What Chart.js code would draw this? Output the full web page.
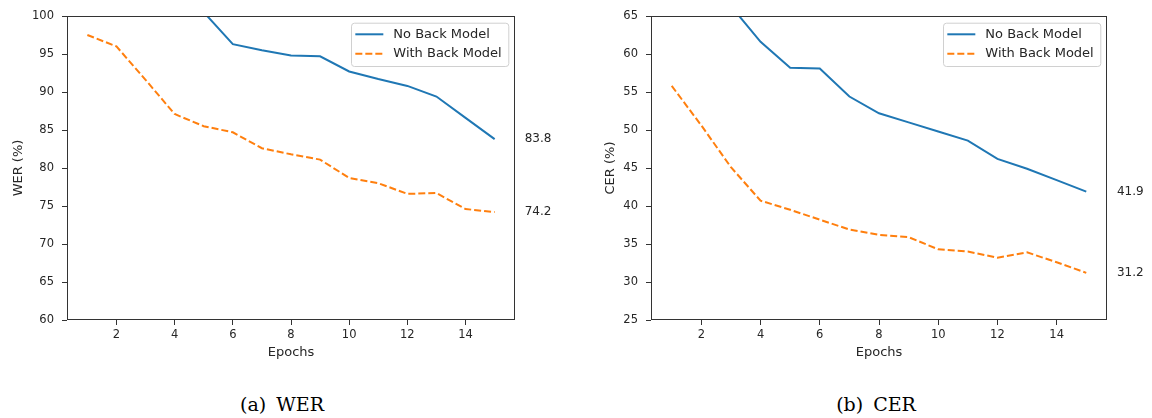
<!DOCTYPE html>
<html>
<head>
<meta charset="utf-8">
<script src="https://cdn.jsdelivr.net/npm/chart.js@4/dist/chart.umd.min.js"></script>
<style>
  html, body { margin: 0; padding: 0; background: #fff; }
  #page { position: relative; width: 1152px; height: 418px; }
  .box { position: absolute; top: 0; width: 576px; height: 370px; }
  .caption {
    position: absolute; top: 391px; height: 26px; line-height: 26px;
    width: 200px; text-align: center;
    font-family: "DejaVu Serif", serif; font-size: 19px; color: #000;
    word-spacing: 4px;
  }
</style>
</head>
<body>
<div id="page">
  <div class="box" style="left:0"><canvas id="wer-chart"></canvas></div>
  <div class="box" style="left:576px"><canvas id="cer-chart"></canvas></div>
  <div class="caption" style="left:182px">(a) WER</div>
  <div class="caption" style="left:776px">(b) CER</div>
</div>
<script>
const epochs = [1, 2, 3, 4, 5, 6, 7, 8, 9, 10, 11, 12, 13, 14, 15];
const xTicks = [2, 4, 6, 8, 10, 12, 14];

// WER (%) - the first epochs of "No Back Model" are above the axis range
const werNoBack   = [null, null, null, null, 100.5, 96.3, 95.5, 94.8, 94.7, 92.7, 91.7, 90.8, 89.4, 86.6, 83.8];
const werWithBack = [97.5, 96.0, 91.6, 87.1, 85.5, 84.7, 82.6, 81.8, 81.1, 78.7, 78.0, 76.6, 76.7, 74.6, 74.2];

// CER (%)
const cerNoBack   = [null, null, 66.3, 61.6, 58.2, 58.1, 54.4, 52.2, 51.0, 49.8, 48.6, 46.2, 44.9, 43.4, 41.9];
const cerWithBack = [55.8, 50.6, 45.1, 40.7, 39.5, 38.2, 36.9, 36.2, 35.9, 34.3, 34.0, 33.2, 33.9, 32.6, 31.2];

const seriesNames = ['No Back Model', 'With Back Model'];
const blue = '#1f77b4';
const orange = '#ff7f0e';
const textColor = '#262626';

Chart.defaults.font.family = '"DejaVu Sans", sans-serif';
Chart.defaults.color = textColor;

// frame (top/right spines), legend box and end-value labels
const framePlugin = {
    id: 'frame',
    afterDatasetsDraw(chart, args, opts) {
        const { ctx, chartArea: a } = chart;
        ctx.save();
        ctx.strokeStyle = '#333';
        ctx.lineWidth = 1;
        ctx.strokeRect(Math.round(a.left) + 0.5, Math.round(a.top) + 0.5,
            Math.round(a.right - a.left) - 1, Math.round(a.bottom - a.top) - 1);

        // legend
        ctx.font = '13px "DejaVu Sans"';
        const sets = chart.data.datasets;
        const textW = Math.max(...sets.map(d => ctx.measureText(d.label).width));
        const w = 4.3 + 28 + 10 + textW + 6.6;
        const h = 43.3;
        const bx = a.right - 6.7 - w;
        const by = a.top + 6.7;
        ctx.fillStyle = 'rgba(255,255,255,0.8)';
        ctx.strokeStyle = '#d0d0d0';
        ctx.beginPath();
        ctx.roundRect(bx + 0.5, by + 0.5, w, h, 3);
        ctx.fill();
        ctx.stroke();
        sets.forEach((d, i) => {
            const y = by + 11.6 + i * 19.4;
            ctx.strokeStyle = d.borderColor;
            ctx.lineWidth = d.borderWidth;
            ctx.setLineDash(d.borderDash || []);
            ctx.beginPath();
            ctx.moveTo(bx + 4.3, y);
            ctx.lineTo(bx + 32.3, y);
            ctx.stroke();
            ctx.setLineDash([]);
            ctx.fillStyle = textColor;
            ctx.textAlign = 'left';
            ctx.textBaseline = 'middle';
            ctx.fillText(d.label, bx + 42.3, y);
        });

        // final values written next to the plot
        ctx.font = '12px "DejaVu Sans"';
        const xs = chart.scales.x, ys = chart.scales.y;
        ctx.fillStyle = textColor;
        sets.forEach(d => {
            const last = d.data[d.data.length - 1];
            ctx.fillText(last.y.toFixed(1), xs.getPixelForValue(opts.labelX) + 1, ys.getPixelForValue(last.y));
        });
        ctx.restore();
    }
};

function makeChart(id, yTitle, yMin, yMax, noBack, withBack, axisWidth, titlePad, padRight) {
    const ctx = document.getElementById(id).getContext('2d');
    return new Chart(ctx, {
        type: 'line',
        data: {
            datasets: [{
                label: seriesNames[0],
                data: epochs.map((e, i) => ({ x: e, y: noBack[i] })),
                borderColor: blue,
                borderWidth: 2,
                pointRadius: 0,
                tension: 0,
                clip: 0
            }, {
                label: seriesNames[1],
                data: epochs.map((e, i) => ({ x: e, y: withBack[i] })),
                borderColor: orange,
                borderWidth: 2,
                borderDash: [7, 3],
                pointRadius: 0,
                tension: 0,
                clip: 0
            }]
        },
        options: {
            responsive: false,
            animation: false,
            layout: { padding: { left: 0, top: 16, right: padRight, bottom: 0 } },
            plugins: {
                legend: { display: false },
                tooltip: { enabled: false },
                frame: { labelX: 16 }
            },
            scales: {
                x: {
                    type: 'linear',
                    min: 0.3,
                    max: 15.7,
                    afterBuildTicks: s => { s.ticks = xTicks.map(v => ({ value: v })); },
                    afterFit: s => { s.height = 50; },
                    grid: { drawOnChartArea: false, tickLength: 5, tickColor: '#333' },
                    border: { display: false },
                    ticks: { font: { size: 11.5 }, padding: 3, maxRotation: 0, autoSkip: false, color: textColor },
                    title: { display: true, text: 'Epochs', font: { size: 13 }, padding: { top: 0, bottom: 10 }, color: textColor }
                },
                y: {
                    min: yMin,
                    max: yMax,
                    afterFit: s => { s.width = axisWidth; },
                    grid: { drawOnChartArea: false, tickLength: 5, tickColor: '#333' },
                    border: { display: false },
                    ticks: { stepSize: 5, font: { size: 11.5 }, padding: 8, color: textColor },
                    title: { display: true, text: yTitle, font: { size: 13 }, padding: { top: titlePad, bottom: 0 }, color: textColor }
                }
            }
        },
        plugins: [framePlugin]
    });
}

document.getElementById('wer-chart').width = 576;
document.getElementById('wer-chart').height = 370;
document.getElementById('cer-chart').width = 576;
document.getElementById('cer-chart').height = 370;

makeChart('wer-chart', 'WER (%)', 60, 100, werNoBack, werWithBack, 67, 10.5, 61);
makeChart('cer-chart', 'CER (%)', 25, 65, cerNoBack, cerWithBack, 75, 26.5, 45);
</script>
</body>
</html>
